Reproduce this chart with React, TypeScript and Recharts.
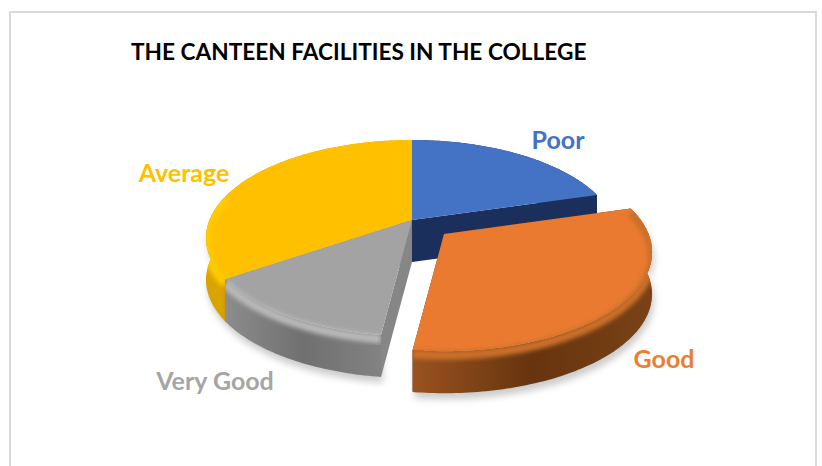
import { PieChart, Pie } from 'recharts';

const categories = ['Average', 'Poor', 'Good', 'Very Good'];
const shares = [34.5, 20.5, 31.5, 13.5];
const data = categories.map((name, i) => ({ name, value: shares[i] }));

// Average is drawn first so its hidden cut face stays under Very Good
const firstAngle = 90 + (shares[0] / 100) * 360;

const TILT = 0.4677;
const PERSPECTIVE = 0.184;
const DEPTH = 42;

const LOOK: Record<string, any> = {
  Poor: { top: '#4472C4', wall: ['#1B2F5C', '#1B2F5C'], face: '#1B2F5C', text: '#4472C4' },
  Good: { top: '#EA7A30', wall: ['#9A5220', '#66340F', '#7A4216'], face: '#66340F', text: '#ED7D31', bevel: '#CB6F2C', dx: 32, dy: 14, grow: 1.01 },
  'Very Good': { top: '#A3A3A3', wall: ['#8C8C8C', '#707070', '#828282'], face: '#868686', text: '#A5A5A5', bevel: '#B8B8B8' },
  Average: { top: '#FFC000', wall: ['#D9A300', '#E8AE00'], face: '#D9A300', text: '#FFC000', bevel: '#FFCB05' },
};

const LABEL_AT: Record<string, [number, number]> = {
  Poor: [558, 139],
  Good: [664, 358],
  'Very Good': [215, 380],
  Average: [184, 172],
};

function project(cx: number, cy: number, r: number, deg: number) {
  const c = Math.cos((deg * Math.PI) / 180);
  const s = Math.sin((deg * Math.PI) / 180);
  const w = 1 + PERSPECTIVE * s;
  return { x: cx + (r * c) / w, y: cy - (r * TILT * s) / w, s };
}

const toPath = (pts: { x: number; y: number }[], close = true) =>
  pts.map((p, i) => `${i ? 'L' : 'M'}${p.x.toFixed(1)} ${p.y.toFixed(1)}`).join(' ') + (close ? ' Z' : '');

function Slice3D(props: any) {
  const { cx, cy, outerRadius, startAngle, endAngle, payload } = props;
  const look = LOOK[payload.name];
  const ox = cx + (look.dx || 0);
  const oy = cy + (look.dy || 0);
  const radius = outerRadius * (look.grow || 1);
  const id = payload.name.replace(' ', '');

  const rim = [];
  const steps = Math.ceil(Math.abs(endAngle - startAngle));
  for (let i = 0; i <= steps; i++) {
    rim.push(project(ox, oy, radius, startAngle + ((endAngle - startAngle) * i) / steps));
  }
  const apex = { x: ox, y: oy };
  const down = (p: { x: number; y: number }) => ({ x: p.x, y: p.y + DEPTH });
  const first = rim[0];
  const last = rim[rim.length - 1];
  const wall = [...rim, ...rim.map(down).reverse()];
  const bevel = rim.filter((p) => p.s < 0.3).map((p) => ({ x: p.x, y: p.y + 4 }));

  return (
    <g>
      <defs>
        <linearGradient id={`wall-${id}`} x1="0" y1="0" x2="1" y2="0">
          {look.wall.map((col: string, i: number) => (
            <stop key={i} offset={i / (look.wall.length - 1)} stopColor={col} />
          ))}
        </linearGradient>
        <filter id={`soft-${id}`} x="-10%" y="-10%" width="120%" height="120%">
          <feGaussianBlur stdDeviation="2" />
        </filter>
        <filter id={`shade-${id}`} x="-10%" y="-20%" width="120%" height="140%">
          <feGaussianBlur stdDeviation="3.5" />
        </filter>
        <clipPath id={`clip-${id}`}>
          <path d={toPath([apex, ...rim])} />
          <path d={toPath(wall)} />
        </clipPath>
      </defs>
      {payload.name !== 'Poor' && (
        <path
          d={toPath(wall)}
          fill="#000"
          opacity={0.2}
          transform="translate(2 6)"
          filter={`url(#shade-${id})`}
        />
      )}
      <path d={toPath([apex, first, down(first), down(apex)])} fill={look.face} />
      <path d={toPath([apex, last, down(last), down(apex)])} fill={look.face} />
      <path d={toPath(wall)} fill={`url(#wall-${id})`} />
      <path d={toPath([apex, ...rim])} fill={look.top} />
      {look.bevel && bevel.length > 1 && (
        <g clipPath={`url(#clip-${id})`}>
          <path
            d={toPath(bevel, false)}
            fill="none"
            stroke={look.bevel}
            strokeWidth={9}
            filter={`url(#soft-${id})`}
          />
        </g>
      )}
    </g>
  );
}

function SliceLabel(props: any) {
  const name = props.name ?? props.payload?.name;
  const [x, y] = LABEL_AT[name];
  return (
    <text
      x={x}
      y={y}
      textAnchor="middle"
      dominantBaseline="central"
      fill={LOOK[name].text}
      fontFamily="Lato, sans-serif"
      fontWeight={700}
      fontSize={25}
    >
      {name}
    </text>
  );
}

export default function App() {
  return (
    <div style={{ position: 'absolute', left: 0, top: 0, width: 822, height: 466, overflow: 'hidden', background: '#fff' }}>
      <div
        style={{
          position: 'absolute',
          left: 9,
          top: 11,
          width: 804,
          height: 480,
          border: '2px solid #D9D9D9',
        }}
      />
      <div
        style={{
          position: 'absolute',
          left: 131,
          top: 38,
          fontFamily: 'Lato, sans-serif',
          fontWeight: 700,
          fontSize: 22.65,
          lineHeight: '28px',
          color: '#000',
          whiteSpace: 'nowrap',
        }}
      >
        THE CANTEEN FACILITIES IN THE COLLEGE
      </div>
      <div style={{ position: 'absolute', left: 0, top: 0 }}>
        <PieChart width={822} height={466} margin={{ top: 0, right: 0, bottom: 0, left: 0 }}>
          <Pie
            data={data}
            dataKey="value"
            nameKey="name"
            cx={412}
            cy={220}
            innerRadius={0}
            outerRadius={202.5}
            startAngle={firstAngle}
            endAngle={firstAngle - 360}
            stroke="none"
            shape={Slice3D}
            label={SliceLabel}
            labelLine={false}
            isAnimationActive={false}
          />
        </PieChart>
      </div>
    </div>
  );
}
